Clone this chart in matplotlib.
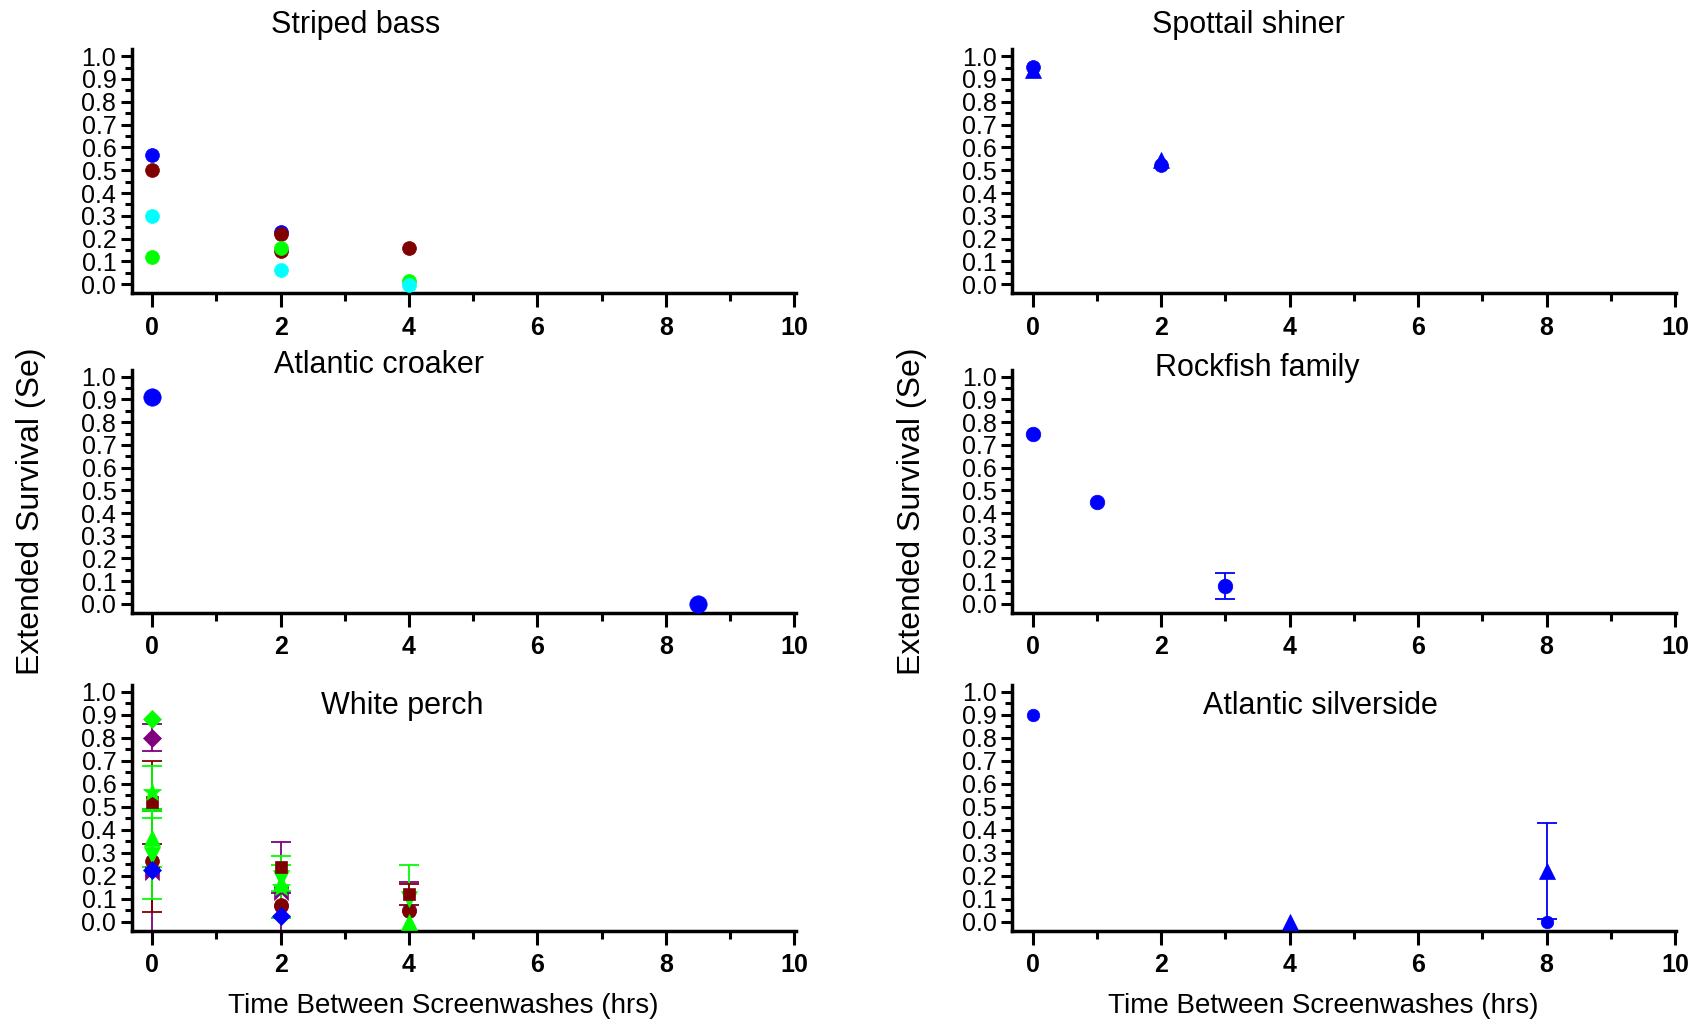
import numpy as np
import matplotlib.pyplot as plt
from matplotlib.ticker import MultipleLocator, FormatStrFormatter
from matplotlib.path import Path

plt.rcParams['font.family'] = ['Liberation Sans', 'DejaVu Sans']

BLUE = '#0000ff'
DRED = '#800000'
CYAN = '#00ffff'
GREEN = '#00ff00'
PURPLE = '#800080'
nan = np.nan

# Striped bass
sb_x = [0, 2, 4]
sb_blue = [0.567, 0.23, nan]
sb_dred = [0.50, 0.222, 0.158]
sb_dred2 = [nan, 0.147, nan]
sb_green = [0.12, 0.16, 0.016]
sb_cyan = [0.30, 0.062, -0.005]

# Spottail shiner
ss_x = [0, 2]
ss_circ = [0.952, 0.523]
ss_tri = [0.94, 0.545]

# Atlantic croaker
ac_x = [0, 8.5]
ac_y = [0.91, 0.0]

# Rockfish family
rf_x = [0, 1, 3]
rf_y = [0.75, 0.45, 0.08]
rf_err = [0, 0, 0.057]

# White perch
wp_x = [0, 2, 4]
wp_purple_bowtie = [0.21, 0.127, nan]
wp_purple_bowtie_err = [0.28, 0.22, 0]
wp_purple_circle = [nan, 0.07, 0.053]
wp_purple_circle_err = [0, 0.055, 0.12]
wp_dred_circle = [0.263, 0.075, 0.045]
wp_dred_circle_err = [0.22, 0, 0]
wp_green_down = [0.29, 0.19, 0.097]
wp_green_down_err = [0.19, 0.055, 0.148]
wp_blue_diamond = [0.223, 0.023, nan]
wp_dred_square = [0.52, 0.24, 0.12]
wp_dred_square_err = [0.18, 0, 0.045]
wp_green_up = [0.365, 0.17, 0.0]
wp_green_up_err = [0.125, 0, 0]
wp_green_star = [0.565, 0.15, nan]
wp_green_star_err = [0.113, 0.135, 0]
wp_purple_diamond = [0.80, nan, nan]
wp_purple_diamond_err = [0.06, 0, 0]
wp_green_diamond = [0.88, nan, nan]

# Atlantic silverside
as_circ_x = [0, 8]
as_circ = [0.9, 0.0]
as_tri_x = [4, 8]
as_tri = [0.0, 0.22]
as_tri_err = [0, 0.21]

bowtie = Path([(-1, -1), (1, 1), (1, -1), (-1, 1), (-1, -1)],
              [Path.MOVETO, Path.LINETO, Path.LINETO, Path.LINETO, Path.CLOSEPOLY])


def pts(ax, x, y, color, marker='o', ms=10, err=None):
    x = np.asarray(x, float)
    y = np.asarray(y, float)
    if err is not None:
        e = np.asarray(err, float)
        m = e > 0
        if m.any():
            ax.errorbar(x[m], y[m], yerr=e[m], fmt='none', ecolor=color,
                        elinewidth=1.3, capsize=7, capthick=1.3, zorder=2)
    ax.plot(x, y, linestyle='none', marker=marker, color=color, ms=ms,
            mec=color, mew=0.5, zorder=3, clip_on=False)


def style(ax):
    ax.set_xlim(-0.32, 10.02)
    ax.set_ylim(-0.04, 1.03)
    for s in ['top', 'right']:
        ax.spines[s].set_visible(False)
    for s in ['left', 'bottom']:
        ax.spines[s].set_linewidth(2.5)
    ax.xaxis.set_major_locator(MultipleLocator(2))
    ax.xaxis.set_minor_locator(MultipleLocator(1))
    ax.yaxis.set_major_locator(MultipleLocator(0.1))
    ax.yaxis.set_minor_locator(MultipleLocator(0.05))
    ax.yaxis.set_major_formatter(FormatStrFormatter('%.1f'))
    ax.tick_params(axis='x', which='major', length=10, width=2.2, labelsize=18, pad=6)
    ax.tick_params(axis='x', which='minor', length=6, width=2.2)
    ax.tick_params(axis='y', which='major', length=8, width=2.2, labelsize=18, pad=3)
    ax.tick_params(axis='y', which='minor', length=5, width=2.2)
    for lab in ax.get_xticklabels():
        lab.set_fontweight('bold')


fig = plt.figure(figsize=(17.07, 10.26), dpi=100)
lefts = [0.0771, 0.593]
width = 0.389
rows = [(0.714, 0.238), (0.4025, 0.237), (0.0926, 0.24)]
axs = [[fig.add_axes([l, b, width, h]) for l in lefts] for (b, h) in rows]

# Striped bass
ax = axs[0][0]
pts(ax, sb_x, sb_blue, BLUE)
pts(ax, sb_x, sb_dred, DRED)
pts(ax, sb_x, sb_dred2, DRED)
pts(ax, sb_x, sb_green, GREEN)
pts(ax, sb_x, sb_cyan, CYAN)
ax.text(0.337, 1.10, 'Striped bass', transform=ax.transAxes, ha='center', va='center', fontsize=22)

# Spottail shiner
ax = axs[0][1]
pts(ax, ss_x, ss_tri, BLUE, marker='^', ms=11)
pts(ax, ss_x, ss_circ, BLUE, ms=10)
ax.text(0.356, 1.10, 'Spottail shiner', transform=ax.transAxes, ha='center', va='center', fontsize=22)

# Atlantic croaker
ax = axs[1][0]
pts(ax, ac_x, ac_y, BLUE, ms=12.5)
ax.text(0.372, 1.018, 'Atlantic croaker', transform=ax.transAxes, ha='center', va='center', fontsize=22)

# Rockfish family
ax = axs[1][1]
pts(ax, rf_x, rf_y, BLUE, ms=10.5, err=rf_err)
ax.text(0.369, 1.009, 'Rockfish family', transform=ax.transAxes, ha='center', va='center', fontsize=22)

# White perch
ax = axs[2][0]
wms = 10
pts(ax, wp_x, wp_purple_bowtie, PURPLE, marker=bowtie, ms=wms, err=wp_purple_bowtie_err)
pts(ax, wp_x, wp_purple_circle, PURPLE, ms=wms, err=wp_purple_circle_err)
pts(ax, wp_x, wp_dred_circle, DRED, ms=wms, err=wp_dred_circle_err)
pts(ax, wp_x, wp_green_down, GREEN, marker='v', ms=wms + 1, err=wp_green_down_err)
pts(ax, wp_x, wp_blue_diamond, BLUE, marker='D', ms=wms - 1)
pts(ax, wp_x, wp_dred_square, DRED, marker='s', ms=wms - 1, err=wp_dred_square_err)
pts(ax, wp_x, wp_green_up, GREEN, marker='^', ms=wms + 1, err=wp_green_up_err)
pts(ax, wp_x, wp_green_star, GREEN, marker='*', ms=wms + 4, err=wp_green_star_err)
pts(ax, wp_x, wp_purple_diamond, PURPLE, marker='D', ms=wms - 1, err=wp_purple_diamond_err)
pts(ax, wp_x, wp_green_diamond, GREEN, marker='D', ms=wms - 1)
ax.text(0.4075, 0.912, 'White perch', transform=ax.transAxes, ha='center', va='center', fontsize=22)

# Atlantic silverside
ax = axs[2][1]
pts(ax, as_tri_x, as_tri, BLUE, marker='^', ms=11, err=as_tri_err)
pts(ax, as_circ_x, as_circ, BLUE, ms=9)
ax.text(0.464, 0.912, 'Atlantic silverside', transform=ax.transAxes, ha='center', va='center', fontsize=22)

for row in axs:
    for ax in row:
        style(ax)

fig.text(0.0179, 0.5013, 'Extended Survival (Se)', rotation=90, ha='center', va='center', fontsize=23)
fig.text(0.5345, 0.5013, 'Extended Survival (Se)', rotation=90, ha='center', va='center', fontsize=23)
fig.text(0.2597, 0.0195, 'Time Between Screenwashes (hrs)', ha='center', va='center', fontsize=20)
fig.text(0.775, 0.0195, 'Time Between Screenwashes (hrs)', ha='center', va='center', fontsize=20)

fig.savefig('out.png', dpi=100)
